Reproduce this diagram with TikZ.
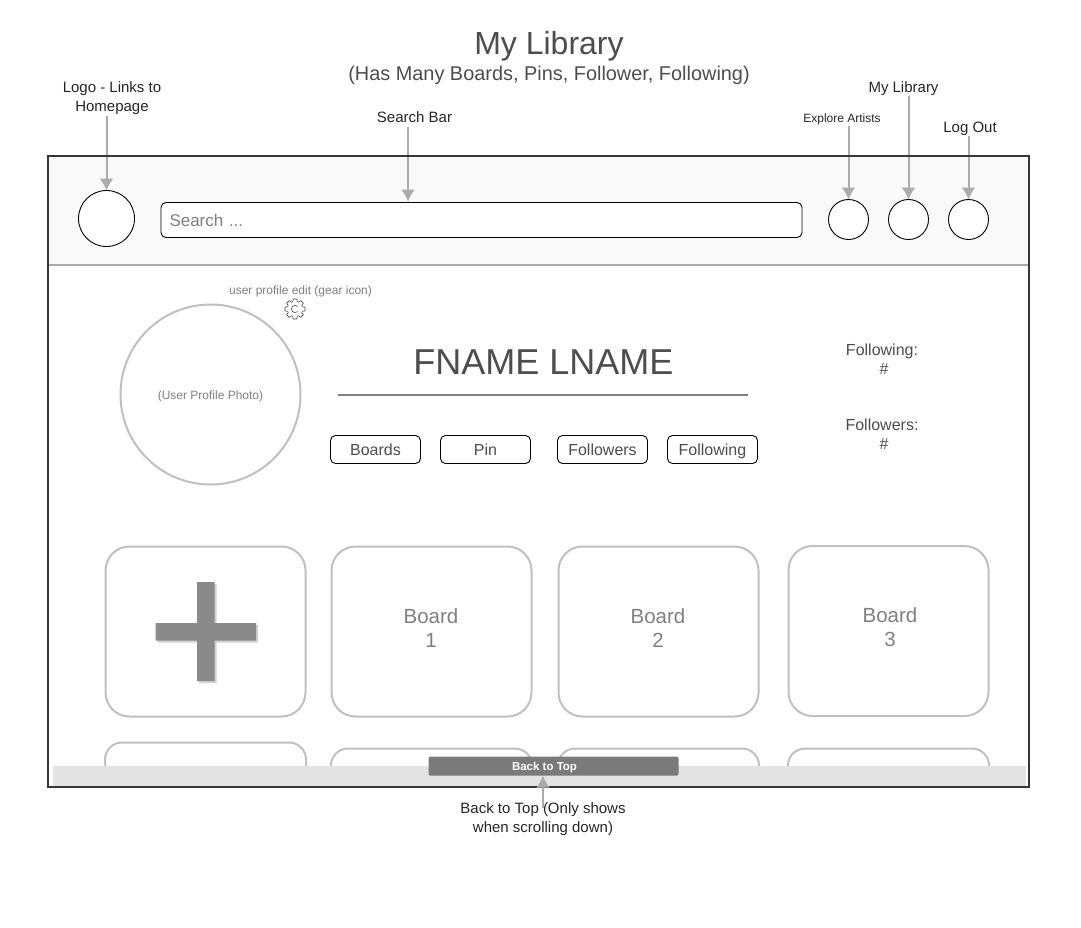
\documentclass[tikz,border=0pt]{standalone}
\usepackage{fontspec}
\setmainfont{Liberation Sans}
\usetikzlibrary{arrows.meta}
\definecolor{inkgray}{HTML}{4D4D4D}
\definecolor{softgray}{HTML}{808080}
\definecolor{linegray}{HTML}{ABABAB}
\definecolor{cardgray}{HTML}{C0C0C0}
\tikzset{
	note/.style={inner sep=0pt, align=center, text=black!85, font=\fontsize{15}{19}\selectfont},
	smallnote/.style={inner sep=0pt, align=center, text=black!85, font=\fontsize{12}{14}\selectfont},
	graynote/.style={inner sep=0pt, align=center, text=softgray, font=\fontsize{12}{14}\selectfont},
	pointer/.style={draw=linegray, line width=2pt, -{Latex[length=12pt,width=14pt]}},
	navbutton/.style={circle, draw=black, fill=white, line width=0.9pt, inner sep=0pt, outer sep=0pt},
	tabbutton/.style={draw=black, fill=white, rounded corners=5pt, line width=0.9pt, minimum width=90pt, minimum height=28pt, inner sep=0pt, text height=13.5pt, text depth=2.5pt, text=inkgray, font=\fontsize{16}{19}\selectfont},
	boardcard/.style={draw=cardgray, fill=white, rounded corners=24pt, line width=2pt, minimum width=200pt, minimum height=170pt, inner sep=0pt},
	boardtext/.style={inner sep=0pt, align=center, text=softgray, font=\fontsize{20.5}{24.5}\selectfont},
	cardstub/.style={draw=cardgray, line width=2pt, rounded corners=17pt},
	statnote/.style={inner sep=0pt, align=center, text=inkgray, font=\fontsize{16}{19}\selectfont},
}

\begin{document}
\begin{tikzpicture}[x=1pt, y=-1pt]
		\useasboundingbox[fill=white] (0,0) rectangle (1081,927);
		% title
		\node[inner sep=0pt, text=inkgray, font=\fontsize{32}{38}\selectfont] (pagetitle) at (549,46) {My Library};
		\node[inner sep=0pt, text=inkgray, font=\fontsize{19.9}{24}\selectfont] (pagesub) at (549,75) {(Has Many Boards, Pins, Follower, Following)};
		% header
		\fill[black!2.5] (48,156) rectangle (1029,265);
		\draw[linegray, line width=2pt] (48,265) -- (1029,265);
		\node[navbutton, minimum size=56pt] (logo) at (106.5,218.5) {};
		\node[draw=black, fill=white, rounded corners=5pt, line width=0.9pt, minimum height=35pt, text width=624pt, inner xsep=8.5pt, inner ysep=0pt, align=left, text=softgray, font=\fontsize{17}{20}\selectfont] (searchbar) at (481.5,220) {Search ...};
		\node[navbutton, minimum size=40pt] (explore) at (848.5,219.5) {};
		\node[navbutton, minimum size=40pt] (library) at (908.5,219.5) {};
		\node[navbutton, minimum size=40pt] (logout) at (968.5,219.5) {};
		\coordinate (searchtip) at (408,201.5);
		\node[note] (logolabel) at (112,98.5) {Logo - Links to\\Homepage};
		\node[note] (searchlabel) at (414.5,117) {Search Bar};
		\node[smallnote] (explorelabel) at (842,119) {Explore Artists};
		\node[note] (librarylabel) at (903.5,89) {My Library};
		\node[note] (logoutlabel) at (970,129) {Log Out};
		\draw[pointer] ([yshift=-1pt]logolabel.south -| logo) -- (logo);
		\draw[pointer] ([yshift=-4pt]searchlabel.south -| searchtip) -- (searchtip);
		\draw[pointer] ([yshift=-1pt]explorelabel.south -| explore) -- (explore);
		\draw[pointer] (librarylabel.south -| library) -- (library);
		\draw[pointer] (logoutlabel.south -| logout) -- (logout);
		% profile
		\node[circle, draw=cardgray, line width=2pt, minimum size=180pt, inner sep=0pt, outer sep=0pt] (photo) at (210.5,394.5) {};
		\node[graynote] (phototext) at (210.5,396) {(User Profile Photo)};
		\node[graynote] (gearlabel) at (300.5,291) {user profile edit (gear icon)};
		\begin{scope}[shift={(295,309)}]
			\draw[inkgray, line width=0.6pt, line join=round] foreach \a in {0,45,...,315} {
				(\a-16:7.7) -- (\a-11:10.2) -- (\a+11:10.2) -- (\a+16:7.7) arc[start angle=\a+16, end angle=\a+29, radius=7.7]
			};
			\draw[inkgray, line width=0.6pt] (45:3.6) arc[start angle=45, end angle=315, radius=3.6];
		\end{scope}
		\node[inner sep=0pt, text=inkgray, font=\fontsize{36}{43}\selectfont] (username) at (543.5,362) {FNAME LNAME};
		\coordinate (ruleleft) at (338,395);
		\coordinate (ruleright) at (748,395);
		\draw[softgray, line width=2pt] (ruleleft) -- (ruleright);
		\node[tabbutton] (boardstab) at (375.5,449.5) {Boards};
		\node[tabbutton] (pintab) at (485.5,449.5) {Pin};
		\node[tabbutton] (followerstab) at (602.5,449.5) {Followers};
		\node[tabbutton] (followingtab) at (712.5,449.5) {Following};
		\node[statnote] (followingstat) at (882,359.5) {Following:\\\hspace*{4pt}\#};
		\node[statnote] (followersstat) at (882,434.5) {Followers:\\\hspace*{4pt}\#};
		% boards
		\node[boardcard] (addcard) at (205.5,631.5) {};
		\node[boardcard] (boardone) at (431.5,631.5) {};
		\node[boardcard] (boardtwo) at (658.5,631.5) {};
		\node[boardcard] (boardthree) at (888.5,631) {};
		\node[boardtext] (boardonetext) at (431,628) {Board\\1};
		\node[boardtext] (boardtwotext) at (658,628) {Board\\2};
		\node[boardtext] (boardthreetext) at (890,627) {Board\\3};
		\fill[black!18] (199,584) rectangle (216.5,683) (157.5,625) rectangle (258,642.5);
		\fill[black!46] (197,582) rectangle (214.5,681) (155.5,623) rectangle (256,640.5);
		\draw[cardstub] (105,766) |- (306,742.5) -- (306,766);
		\draw[cardstub] (331,766) |- (532,748.5) -- (532,766);
		\draw[cardstub] (558,766) |- (759,748.5) -- (759,766);
		\draw[cardstub] (788,766) |- (989,748.5) -- (989,766);
		% footer
		\fill[black!11] (53,766) rectangle (1026,785.5);
		\node[fill=black!52, rounded corners=1.5pt, minimum width=250pt, minimum height=19pt, inner sep=0pt] (backtop) at (553.5,766) {};
		\node[inner sep=0pt, text=white, font=\bfseries\fontsize{11.5}{14}\selectfont] (backtext) at (544.5,768) {Back to Top};
		\draw[inkgray!70!black, line width=2pt] (48,156) rectangle (1029,787);
		\node[note] (backlabel) at (543,819) {Back to Top (Only shows\\when scrolling down)};
		\draw[pointer] ([yshift=-6pt]backlabel.north) -- (backtop.south -| backlabel.north);
	\end{tikzpicture}
\end{document}
